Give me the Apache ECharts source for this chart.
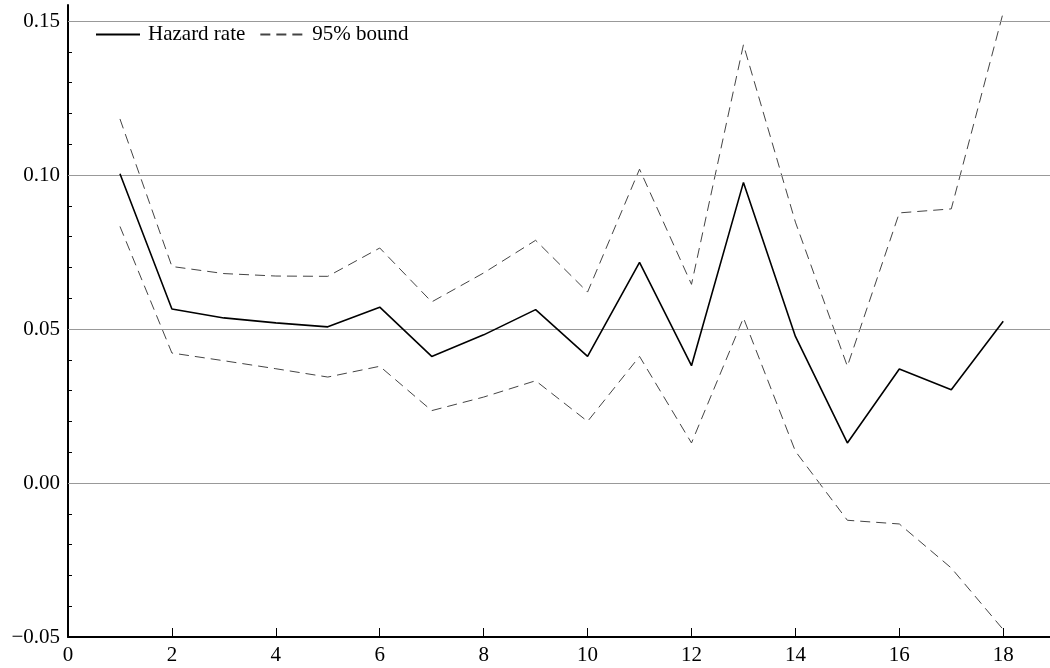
<!DOCTYPE html>
<html>
<head>
<meta charset="utf-8">
<script src="https://cdn.jsdelivr.net/npm/echarts@6/dist/echarts.min.js"></script>
<style>
  html, body { margin: 0; padding: 0; background: #fff; }
  #chart { width: 1050px; height: 668px; }
</style>
</head>
<body>
<div id="chart"></div>
<script>
// duration (x) and estimated hazard with its 95% band
const periods = [1, 2, 3, 4, 5, 6, 7, 8, 9, 10, 11, 12, 13, 14, 15, 16, 17, 18]
const hazard = [0.1004, 0.0565, 0.0536, 0.0520, 0.0507, 0.0571, 0.0411, 0.0481, 0.0563, 0.0411, 0.0716, 0.0381, 0.0976, 0.0476, 0.0130, 0.0370, 0.0303, 0.0525]
const upper = [0.1182, 0.0703, 0.0680, 0.0672, 0.0671, 0.0763, 0.0588, 0.0682, 0.0788, 0.0620, 0.1019, 0.0645, 0.1423, 0.0847, 0.0379, 0.0877, 0.0890, 0.1528]
const lower = [0.0833, 0.0422, 0.0397, 0.0371, 0.0344, 0.0379, 0.0235, 0.0279, 0.0332, 0.0200, 0.0411, 0.0130, 0.0536, 0.0103, -0.0121, -0.0133, -0.0276, -0.0476]
const xTicks = [0, 2, 4, 6, 8, 10, 12, 14, 16, 18]
const yTicks = [-0.05, 0, 0.05, 0.10, 0.15]

const font = '"Liberation Serif", "Times New Roman", serif'
// minor ticks every 0.01 between the labelled ones
let yMinor = []
for (let i = 0; i < yTicks.length - 1; i++) {
  for (let k = 1; k < 5; k++) yMinor.push(+(yTicks[i] + (yTicks[i + 1] - yTicks[i]) * k / 5).toFixed(4))
}
const pairs = ys => periods.map((p, i) => [p, ys[i]])
const fmtY = v => (v < 0 ? '\u2212' : '') + Math.abs(v).toFixed(2)

let option = {
  animation: false,
  backgroundColor: '#fff',
  textStyle: {fontFamily: font},
  grid: {left: 68, right: 0, top: 5, bottom: 31, containLabel: false},
  legend: {
    left: 95,
    top: 24,
    padding: 0,
    itemWidth: 44,
    itemHeight: 14,
    itemGap: 14,
    selectedMode: false,
    data: ['Hazard rate', '95% bound'],
    itemStyle: {opacity: 0, color: 'transparent', borderColor: 'transparent', borderWidth: 0},
    textStyle: {fontFamily: font, fontSize: 21, color: '#000', padding: [0, 0, 0, 3]}
  },
  xAxis: {
    type: 'value',
    min: 0,
    max: 18.9,
    axisLine: {onZero: false, lineStyle: {color: '#000', width: 2}},
    axisTick: {inside: true, length: 9, customValues: xTicks, lineStyle: {color: '#000', width: 1}},
    axisLabel: {customValues: xTicks, color: '#000', fontFamily: font, fontSize: 21, margin: 8},
    splitLine: {show: false}
  },
  yAxis: [
    {
      type: 'value',
      min: -0.05,
      max: 0.1552,
      interval: 0.05,
      axisLine: {show: true, onZero: false, lineStyle: {color: '#000', width: 2}},
      axisTick: {inside: true, length: 10, customValues: yTicks, lineStyle: {color: '#000', width: 1}},
      axisLabel: {customValues: yTicks, formatter: fmtY, color: '#000', fontFamily: font, fontSize: 21, margin: 8},
      splitLine: {show: false}
    },
    {
      type: 'value',
      min: -0.05,
      max: 0.1552,
      position: 'left',
      axisLine: {show: false},
      axisTick: {show: true, inside: true, length: 4, customValues: yMinor, lineStyle: {color: '#000', width: 1}},
      axisLabel: {show: false},
      splitLine: {show: false}
    }
  ],
  series: [
    {
      name: 'Hazard rate',
      type: 'line',
      data: pairs(hazard),
      showSymbol: false,
      symbol: 'none',
      z: 5,
      lineStyle: {color: '#000', width: 1.6},
      itemStyle: {color: '#000'},
      markLine: {
        silent: true,
        symbol: 'none',
        label: {show: false},
        lineStyle: {color: '#999', width: 1, type: 'solid'},
        data: yTicks.filter(v => v > -0.05).map(v => ({yAxis: v}))
      }
    },
    {
      name: '95% bound',
      type: 'line',
      data: pairs(upper),
      symbol: 'none',
      lineStyle: {color: '#444', width: 1, type: [10, 6]},
      itemStyle: {color: '#444'}
    },
    {
      name: '95% bound',
      type: 'line',
      data: pairs(lower),
      symbol: 'none',
      lineStyle: {color: '#444', width: 1, type: [10, 6]},
      itemStyle: {color: '#444'}
    }
  ]
}
echarts.init(document.getElementById('chart')).setOption(option)
</script>
</body>
</html>
